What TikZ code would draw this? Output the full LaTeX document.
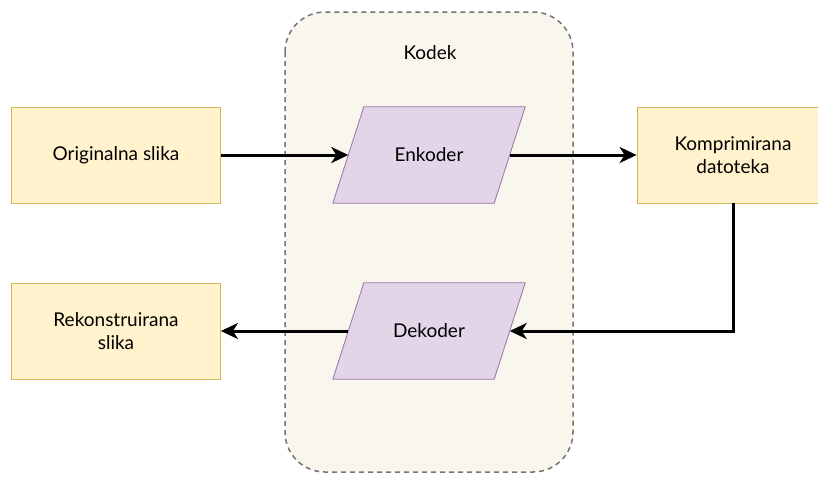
\documentclass[tikz,border=0pt]{standalone}
\usepackage{fontspec}
\setmainfont{Lato}
\usetikzlibrary{arrows.meta,backgrounds}
\definecolor{yelfill}{HTML}{FFF2CC}
\definecolor{yeldraw}{HTML}{D6B656}
\definecolor{purfill}{HTML}{E1D5E7}
\definecolor{purdraw}{HTML}{9673A6}
\definecolor{grpfill}{HTML}{F9F7ED}
\begin{document}
\begin{tikzpicture}[
	x=1pt, y=-1pt,
	font=\fontsize{19}{23}\selectfont
]
\tikzset{
    boxn/.style = {rectangle, draw=yeldraw, fill=yelfill, align=center, thick,
                   minimum width=209pt, minimum height=96pt, inner sep=0pt},
    parn/.style = {rectangle, align=center, minimum width=161pt, minimum height=96pt, inner sep=0pt},
    parshape/.style = {draw=purdraw, fill=purfill, thick},
    groupn/.style = {draw=black!55, fill=grpfill, dash pattern=on 5pt off 4pt,
                     line width=1.5pt, rounded corners=40pt},
    edgen/.style = {-{Stealth[length=17pt,width=16pt,inset=5pt]}, line width=3pt},
}
\useasboundingbox (0,0) rectangle (818,477);
\node at (430,53) (kodek) {Kodek};
%
\node[boxn] at (116,155) (orig) {Originalna slika};
\node[parn] at (429,155) (enk) {Enkoder};
\node[boxn, minimum width=192pt] at (733,155) (komp) {Komprimirana\\datoteka};
\node[parn] at (429,331) (dek) {Dekoder};
\node[boxn] at (116,331) (rek) {Rekonstruirana\\slika};
%
\begin{scope}[on background layer]
\draw[groupn] (285,12) rectangle (573,472);
\foreach \p in {enk,dek}
  \draw[parshape] ([xshift=15.5pt]\p.north west) -- ([xshift=15.5pt]\p.north east)
    -- ([xshift=-15.5pt]\p.south east) -- ([xshift=-15.5pt]\p.south west) -- cycle;
\end{scope}
%
\draw[edgen] (orig) -- (enk);
\draw[edgen] (enk) -- (komp);
\draw[edgen] (komp.south) |- (dek);
\draw[edgen] (dek) -- (rek);
\end{tikzpicture}
\end{document}
